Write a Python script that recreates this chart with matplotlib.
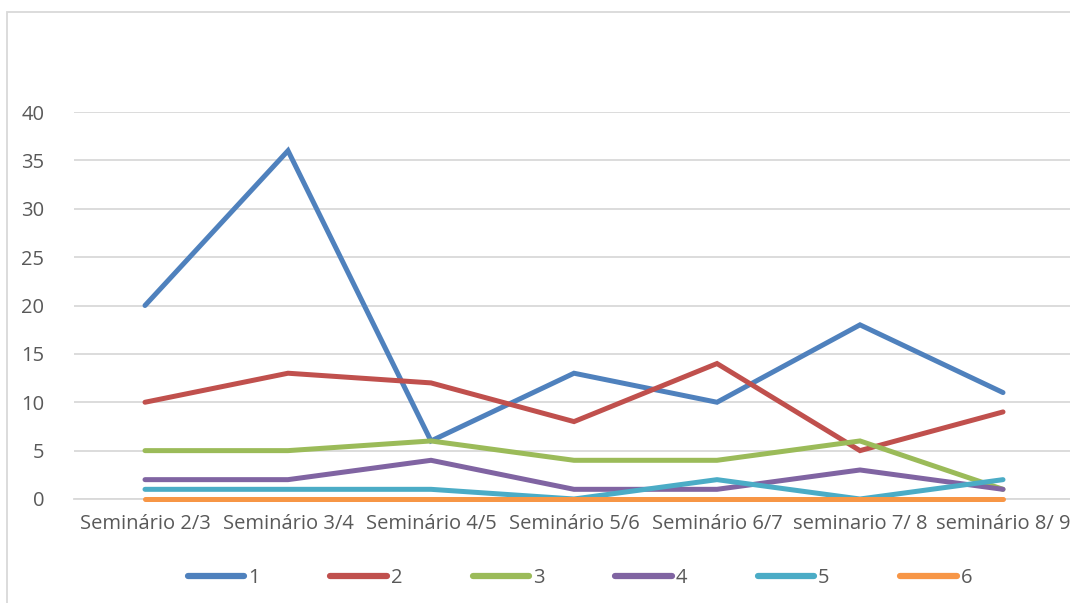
import matplotlib
matplotlib.use('Agg')
import matplotlib.pyplot as plt
from matplotlib.patches import Rectangle

plt.rcParams['font.family'] = ['Open Sans', 'DejaVu Sans']

categorias = ['Seminário 2/3', 'Seminário 3/4', 'Seminário 4/5', 'Seminário 5/6',
              'Seminário 6/7', 'seminario 7/ 8', 'seminário 8/ 9']
serie_1 = [20, 36, 6, 13, 10, 18, 11]
serie_2 = [10, 13, 12, 8, 14, 5, 9]
serie_3 = [5, 5, 6, 4, 4, 6, 1]
serie_4 = [2, 2, 4, 1, 1, 3, 1]
serie_5 = [1, 1, 1, 0, 2, 0, 2]
serie_6 = [0, 0, 0, 0, 0, 0, 0]
nomes = ['1', '2', '3', '4', '5', '6']
cores = ['#4F81BD', '#C0504D', '#9BBB59', '#8064A2', '#4BACC6', '#F79646']

W, H = 1070, 603
fig = plt.figure(figsize=(W / 100, H / 100), dpi=100)

# moldura do gráfico (só esquerda e topo ficam visíveis)
fig.patches.append(Rectangle((7 / W, -0.1), 1.2, 1 - 12 / H + 0.1,
                             transform=fig.transFigure, fill=False,
                             edgecolor='#D9D9D9', linewidth=1.3))

ax = fig.add_axes([73.5 / W, (H - 499) / H, 1001 / W, 387 / H])

x = list(range(len(categorias)))
for s, nome, cor in zip([serie_1, serie_2, serie_3, serie_4, serie_5, serie_6], nomes, cores):
    ax.plot(x, s, color=cor, linewidth=3.6, label=nome, clip_on=False, zorder=3,
            solid_capstyle='round', solid_joinstyle='miter')

ax.set_xlim(-0.5, 6.5)
ax.set_ylim(0, 40)
ax.set_yticks(range(0, 41, 5))
ax.set_xticks(x)
ax.set_xticklabels(categorias)
ax.yaxis.grid(True, color='#D9D9D9', linewidth=1.3)
ax.set_axisbelow(True)
for lado in ['top', 'right', 'left']:
    ax.spines[lado].set_visible(False)
ax.spines['bottom'].set_color('#D9D9D9')
ax.spines['bottom'].set_linewidth(1.3)
ax.tick_params(length=0, colors='#595959', labelsize=14.5)
ax.tick_params(axis='y', pad=21)
ax.tick_params(axis='x', pad=11)

leg = fig.legend(loc='center', bbox_to_anchor=(580 / W, (H - 578) / H), ncol=6,
                 frameon=False, fontsize=14.5, handlelength=2.8, handletextpad=0.2,
                 columnspacing=3.5, labelcolor='#595959')
for linha in leg.get_lines():
    linha.set_linewidth(4.5)
    linha.set_solid_capstyle('round')

fig.savefig('out.png', dpi=100)
